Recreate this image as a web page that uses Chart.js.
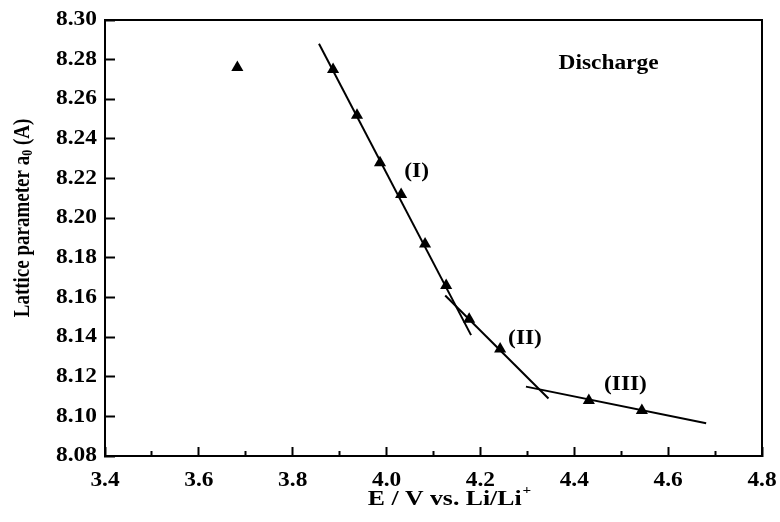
<!DOCTYPE html>
<html><head><meta charset="utf-8">
<script src="https://cdn.jsdelivr.net/npm/chart.js@4"></script>
<style>html,body{margin:0;padding:0;background:#fff}</style>
</head><body>
<canvas id="c" width="780" height="522"></canvas>
<script>
// ---- data ----
const voltage   = [3.682, 3.886, 3.937, 3.986, 4.031, 4.082, 4.127, 4.176, 4.242, 4.431, 4.544];
const latticeA0 = [8.276, 8.275, 8.252, 8.228, 8.212, 8.187, 8.166, 8.149, 8.134, 8.108, 8.103];

const fitI_V   = [3.856, 4.180];
const fitI_a   = [8.288, 8.141];
const fitII_V  = [4.125, 4.345];
const fitII_a  = [8.161, 8.109];
const fitIII_V = [4.297, 4.681];
const fitIII_a = [8.115, 8.0965];

const regionLabels = ['(I)', '(II)', '(III)'];
const regionLabelV = [4.064, 4.295, 4.509];
const regionLabelA = [8.2233, 8.139, 8.1158];
const noteText = 'Discharge';
const noteV = 4.473, noteA = 8.2778;

const xTickValues = [3.4, 3.6, 3.8, 4.0, 4.2, 4.4, 4.6, 4.8];
const xTickLabels = ['3.4', '3.6', '3.8', '4.0', '4.2', '4.4', '4.6', '4.8'];
const xMinorValues = [3.5, 3.7, 3.9, 4.1, 4.3, 4.5, 4.7];
const yTickValues = [8.08, 8.10, 8.12, 8.14, 8.16, 8.18, 8.20, 8.22, 8.24, 8.26, 8.28, 8.30];
const yTickLabels = ['8.08', '8.10', '8.12', '8.14', '8.16', '8.18', '8.20', '8.22', '8.24', '8.26', '8.28', '8.30'];

const xTitleMain = 'E / V vs. Li/Li', xTitleSup = '+';
const yTitlePre = 'Lattice parameter a', yTitleSub = '0', yTitlePost = ' (A)';

const SERIF = '"Liberation Serif", "Times New Roman", serif';
const TEXT_STRETCH = 1.17; // the reference's lettering is drawn a little wider than tall

const pts = (xs, ys) => xs.map((v, i) => ({x: v, y: ys[i]}));

// widen every text run horizontally (screen space) about its anchor point
const stretchText = {
  id: 'stretchText',
  beforeDraw(chart) {
    const ctx = chart.ctx;
    if (ctx._origFillText) return;
    const orig = ctx.fillText;
    ctx._origFillText = orig;
    ctx.fillText = function (t, x, y, ...rest) {
      const m = this.getTransform();
      const p = m.transformPoint(new DOMPoint(x, y));
      const n = new DOMMatrix().translate(p.x, p.y).scale(TEXT_STRETCH, 1).translate(-p.x, -p.y).multiply(m);
      this.setTransform(n);
      if (rest.length && rest[0] !== undefined) orig.call(this, t, x, y, rest[0]);
      else orig.call(this, t, x, y);
      this.setTransform(m);
    };
  }
};

const overlay = {
  id: 'overlay',
  afterDraw(chart) {
    const {ctx, chartArea: a, scales: {x, y}} = chart;
    ctx.save();
    ctx.strokeStyle = '#000';
    ctx.lineWidth = 2;
    ctx.beginPath();
    ctx.moveTo(a.left, a.top);
    ctx.lineTo(a.right, a.top);
    ctx.lineTo(a.right, a.bottom);
    ctx.stroke();

    ctx.fillStyle = '#000';
    ctx.textAlign = 'center';
    ctx.textBaseline = 'middle';
    ctx.font = 'bold 20px ' + SERIF;
    regionLabels.forEach((t, i) =>
      ctx.fillText(t, x.getPixelForValue(regionLabelV[i]), y.getPixelForValue(regionLabelA[i])));
    ctx.fillText(noteText, x.getPixelForValue(noteV), y.getPixelForValue(noteA));

    // x title
    ctx.textAlign = 'left';
    let big = 'bold 22px ' + SERIF, small = 'bold 13px ' + SERIF;
    ctx.font = big;
    const w1 = ctx.measureText(xTitleMain).width * TEXT_STRETCH;
    ctx.font = small;
    const w2 = ctx.measureText(xTitleSup).width * TEXT_STRETCH;
    let sx = a.left + 344 - (w1 + w2) / 2, sy = a.bottom + 43;
    ctx.font = big; ctx.fillText(xTitleMain, sx, sy);
    ctx.font = small; ctx.fillText(xTitleSup, sx + w1 + 1, sy - 8);

    // y title (rotated)
    big = 'bold 19px ' + SERIF; small = 'bold 12px ' + SERIF;
    ctx.save();
    ctx.translate(a.left - 82, a.top + 198);
    ctx.rotate(-Math.PI / 2);
    ctx.font = big;
    const p1 = ctx.measureText(yTitlePre).width;
    const p3 = ctx.measureText(yTitlePost).width;
    ctx.font = small;
    const p2 = ctx.measureText(yTitleSub).width;
    let tx = -(p1 + p2 + p3) / 2;
    ctx.font = big; ctx.fillText(yTitlePre, tx, 0);
    ctx.font = small; ctx.fillText(yTitleSub, tx + p1, 5);
    ctx.font = big; ctx.fillText(yTitlePost, tx + p1 + p2, 0);
    ctx.restore();
    ctx.restore();

    if (ctx._origFillText) { ctx.fillText = ctx._origFillText; delete ctx._origFillText; }
  }
};

const lineDs = (xs, ys) => ({
  type: 'line', data: pts(xs, ys), borderColor: '#000', borderWidth: 2,
  pointRadius: 0, fill: false, showLine: true, tension: 0
});

const noPadX = s => { s.paddingLeft = 0; s.paddingRight = 0; };
const noPadY = s => { s.paddingTop = 0; s.paddingBottom = 0; };

new Chart(document.getElementById('c'), {
  type: 'scatter',
  data: {
    datasets: [
      lineDs(fitI_V, fitI_a),
      lineDs(fitII_V, fitII_a),
      lineDs(fitIII_V, fitIII_a),
      {
        type: 'scatter', data: pts(voltage, latticeA0),
        pointStyle: 'triangle', pointRadius: 7, pointBorderWidth: 0,
        backgroundColor: '#000', borderColor: '#000'
      }
    ]
  },
  options: {
    responsive: false,
    animation: false,
    devicePixelRatio: 1,
    layout: {padding: {top: 20, right: 18, left: 0, bottom: 0}},
    plugins: {legend: {display: false}, tooltip: {enabled: false}},
    scales: {
      x: {
        type: 'linear', position: 'bottom', weight: 1,
        min: 3.4, max: 4.8,
        afterBuildTicks: s => { s.ticks = xTickValues.map(v => ({value: v})); },
        afterFit: s => { s.height = 66; noPadX(s); },
        ticks: {
          color: '#000', padding: 22, maxRotation: 0, autoSkip: false,
          font: {family: SERIF, size: 20, weight: 'bold'},
          callback: (v, i) => xTickLabels[i]
        },
        grid: {drawOnChartArea: false, tickLength: -9, tickWidth: 2, tickColor: '#000'},
        border: {display: true, color: '#000', width: 2}
      },
      x2: {
        type: 'linear', position: 'bottom', weight: 0,
        min: 3.4, max: 4.8,
        afterBuildTicks: s => { s.ticks = xMinorValues.map(v => ({value: v})); },
        afterFit: s => { s.height = 0; noPadX(s); },
        ticks: {display: false},
        grid: {drawOnChartArea: false, tickLength: -5, tickWidth: 2, tickColor: '#000'},
        border: {display: false}
      },
      y: {
        type: 'linear', position: 'left',
        min: 8.08, max: 8.30,
        afterBuildTicks: s => { s.ticks = yTickValues.map(v => ({value: v})); },
        afterFit: s => { s.width = 105; noPadY(s); },
        ticks: {
          color: '#000', padding: 18, autoSkip: false,
          font: {family: SERIF, size: 20, weight: 'bold'},
          callback: (v, i) => yTickLabels[i]
        },
        grid: {drawOnChartArea: false, tickLength: -10, tickWidth: 2, tickColor: '#000'},
        border: {display: true, color: '#000', width: 2}
      }
    }
  },
  plugins: [stretchText, overlay]
});
</script>
</body></html>
